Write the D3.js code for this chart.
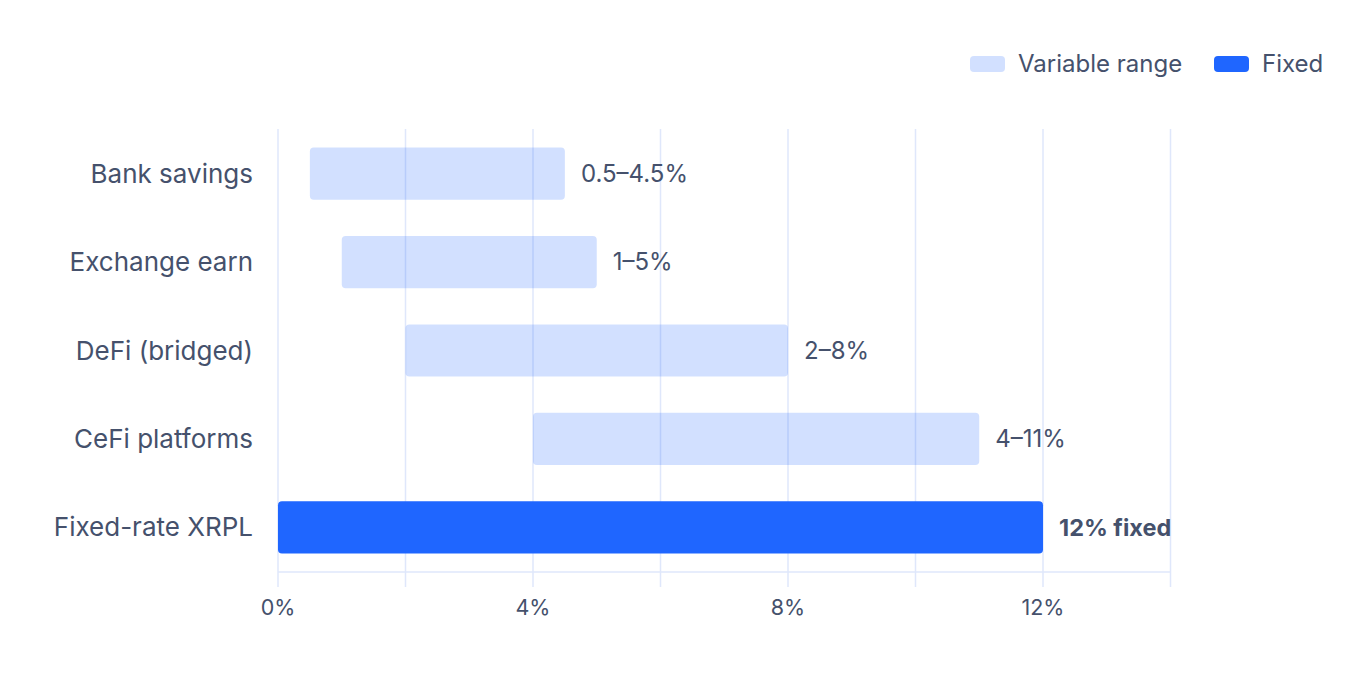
<!DOCTYPE html>
<html><head><meta charset="utf-8">
<script src="https://cdn.jsdelivr.net/npm/d3@7"></script>
<style>
html,body{margin:0;padding:0;background:#fff;}
text{font-family:Inter,"Noto Sans",sans-serif;}
</style></head>
<body>
<svg id="chart" width="1352" height="693"></svg>
<script>
const categories = ["Bank savings","Exchange earn","DeFi (bridged)","CeFi platforms","Fixed-rate XRPL"];
const lowValues  = [0.5, 1, 2, 4, 0];
const highValues = [4.5, 5, 8, 11, 12];
const seriesType = ["Variable range","Variable range","Variable range","Variable range","Fixed"];
const valueLabels = ["0.5–4.5%","1–5%","2–8%","4–11%","12% fixed"];
const gridTicks = [0,2,4,6,8,10,12,14];
const labelTicks = [0,4,8,12];
const legendItems = ["Variable range","Fixed"];

const svg = d3.select("#chart");
const M = {left:278, right:1352-1170.5, top:129, bottom:693-572};
const W = 1352, H = 693;
const x = d3.scaleLinear().domain([0,14]).range([M.left, W-M.right]);
const y = d3.scaleBand().domain(categories).range([M.top, H-M.bottom]).paddingInner(0.41).paddingOuter(0.21);
const textCol = "#45516c";
const gridCol = "#dfe7fb";
const color = {"Variable range":"#1f66ff","Fixed":"#1f66ff"};

// grid
const g = svg.append("g");
g.selectAll("line.grid").data(gridTicks).join("line")
  .attr("x1",d=>x(d)).attr("x2",d=>x(d))
  .attr("y1",M.top).attr("y2",H-M.bottom+15)
  .attr("stroke",gridCol).attr("stroke-width",1.5);
// axis line
g.append("line").attr("x1",x(0)).attr("x2",x(14)).attr("y1",H-M.bottom).attr("y2",H-M.bottom)
  .attr("stroke",gridCol).attr("stroke-width",1.5);

// bars
const data = categories.map((c,i)=>({c, lo:lowValues[i], hi:highValues[i], t:seriesType[i], lab:valueLabels[i]}));
svg.append("g").selectAll("rect").data(data).join("rect")
  .attr("x",d=>x(d.lo)).attr("width",d=>x(d.hi)-x(d.lo))
  .attr("y",d=>y(d.c)).attr("height",y.bandwidth())
  .attr("rx",4)
  .attr("fill",d=>color[d.t])
  .attr("fill-opacity",d=>d.t==="Fixed"?1:0.2);

// value labels
svg.append("g").selectAll("text").data(data).join("text")
  .attr("x",d=>x(d.hi)+16).attr("y",d=>y(d.c)+y.bandwidth()/2)
  .attr("dy","0.35em")
  .attr("font-size",d=>d.t==="Fixed"?23.5:24)
  .attr("font-weight",d=>d.t==="Fixed"?700:400)
  .attr("fill",textCol).text(d=>d.lab);

// category labels
svg.append("g").selectAll("text").data(categories).join("text")
  .attr("x",M.left-25).attr("y",d=>y(d)+y.bandwidth()/2)
  .attr("dy","0.35em").attr("text-anchor","end")
  .attr("font-size",26).attr("fill",textCol).text(d=>d);

// x tick labels
svg.append("g").selectAll("text").data(labelTicks).join("text")
  .attr("x",d=>x(d)).attr("y",H-M.bottom+35)
  .attr("dy","0.35em").attr("text-anchor","middle")
  .attr("font-size",21.5).attr("fill",textCol).text(d=>d+"%");

// legend
const leg = svg.append("g");
const legX = [970, 1214];
legendItems.forEach((k,i)=>{
  leg.append("rect").attr("x",legX[i]).attr("y",56).attr("width",35).attr("height",16).attr("rx",4)
    .attr("fill",color[k]).attr("fill-opacity",k==="Fixed"?1:0.2);
  leg.append("text").attr("x",legX[i]+48).attr("y",64).attr("dy","0.35em")
    .attr("font-size",24).attr("fill",textCol).text(k);
});
</script>
</body></html>
